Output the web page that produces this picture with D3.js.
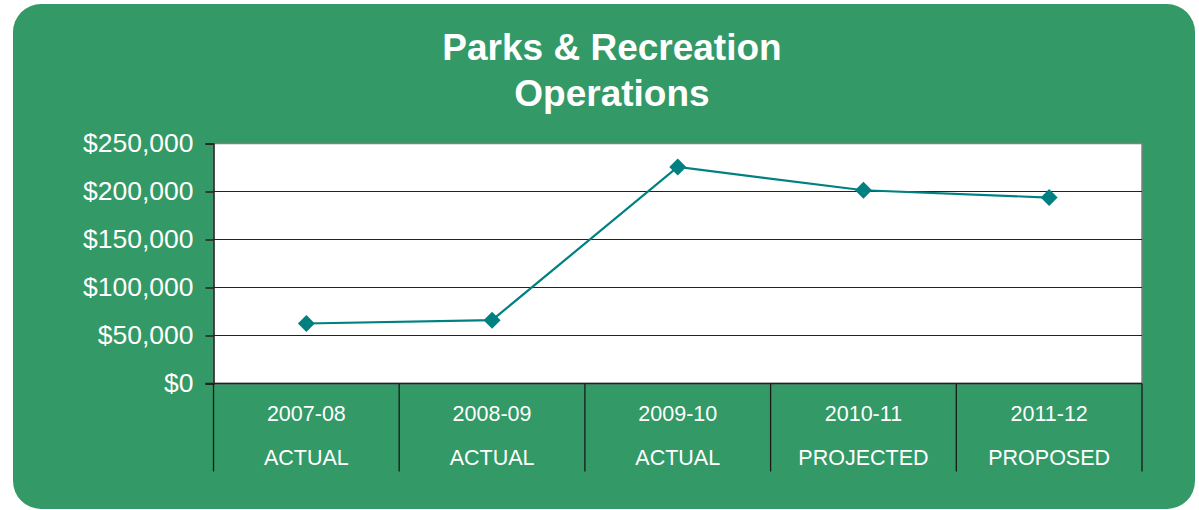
<!DOCTYPE html>
<html>
<head>
<meta charset="utf-8">
<script src="https://cdn.jsdelivr.net/npm/d3@7"></script>
<style>
  body { margin: 0; background: #fff; }
  text { font-family: 'Liberation Sans', Arial, sans-serif; fill: #fff; }
</style>
</head>
<body>
<div id="chart"></div>
<script>
const years = ['2007-08', '2008-09', '2009-10', '2010-11', '2011-12']
const status = ['ACTUAL', 'ACTUAL', 'ACTUAL', 'PROJECTED', 'PROPOSED']
const values = [62500, 66000, 225500, 201300, 193700]
const yTicks = [0, 50000, 100000, 150000, 200000, 250000]
const titleLines = ['Parks & Recreation', 'Operations']

const W = 1199
const H = 510
const margin = { top: 143.5, left: 213.5, right: 57, bottom: 126.5 }
const width = W - margin.left - margin.right
const height = H - margin.top - margin.bottom

const svg = d3
  .select('#chart')
  .append('svg')
  .attr('width', W)
  .attr('height', H)

// green card
svg
  .append('rect')
  .attr('x', 13)
  .attr('y', 4)
  .attr('width', 1182)
  .attr('height', 505)
  .attr('rx', 28)
  .attr('fill', '#339966')

svg
  .append('g')
  .selectAll('text')
  .data(titleLines)
  .enter()
  .append('text')
  .attr('x', 612)
  .attr('y', (d, i) => 60 + i * 46)
  .attr('text-anchor', 'middle')
  .attr('font-size', 37)
  .attr('font-weight', 'bold')
  .text(d => d)

const g = svg
  .append('g')
  .attr('transform', 'translate(' + margin.left + ',' + margin.top + ')')

const x = d3.scaleBand().domain(years).range([0, width])
const y = d3.scaleLinear().domain([0, 250000]).range([height, 0])

g.append('rect')
  .attr('width', width)
  .attr('height', height)
  .attr('fill', '#fff')
  .attr('stroke', '#808080')
  .attr('stroke-width', 1.5)

// gridlines
g.append('g')
  .selectAll('line')
  .data(yTicks.slice(1, -1))
  .enter()
  .append('line')
  .attr('x1', 0)
  .attr('x2', width)
  .attr('y1', d => y(d))
  .attr('y2', d => y(d))
  .attr('stroke', '#222')
  .attr('stroke-width', 1.2)

const yAxis = d3
  .axisLeft(y)
  .tickValues(yTicks)
  .tickSize(8)
  .tickPadding(12)
  .tickFormat(d => '$' + d3.format(',')(d))
g.append('g')
  .attr('class', 'axis y-axis')
  .call(yAxis)
g.selectAll('.y-axis .domain').attr('stroke', '#222').attr('stroke-width', 1.5)
g.selectAll('.y-axis .tick line').attr('stroke', '#222').attr('stroke-width', 1.5)
g.selectAll('.y-axis text')
  .attr('fill', '#fff')
  .attr('font-size', 26.5)
  .attr('font-family', 'Liberation Sans, Arial, sans-serif')

// category axis with separators
const xg = g.append('g').attr('transform', 'translate(0,' + height + ')')
xg.append('line')
  .attr('x1', -8)
  .attr('x2', width)
  .attr('stroke', '#222')
  .attr('stroke-width', 1.5)
xg.selectAll('line.sep')
  .data(years.concat(['end']))
  .enter()
  .append('line')
  .attr('class', 'sep')
  .attr('x1', (d, i) => i * x.bandwidth())
  .attr('x2', (d, i) => i * x.bandwidth())
  .attr('y1', 0)
  .attr('y2', 88)
  .attr('stroke', '#1a1a1a')
  .attr('stroke-width', 1.3)
xg.selectAll('text.yr')
  .data(years)
  .enter()
  .append('text')
  .attr('class', 'yr')
  .attr('x', d => x(d) + x.bandwidth() / 2)
  .attr('y', 37)
  .attr('text-anchor', 'middle')
  .attr('font-size', 21.5)
  .text(d => d)
xg.selectAll('text.st')
  .data(status)
  .enter()
  .append('text')
  .attr('class', 'st')
  .attr('x', (d, i) => x(years[i]) + x.bandwidth() / 2)
  .attr('y', 81)
  .attr('text-anchor', 'middle')
  .attr('font-size', 21.5)
  .text(d => d)

const line = d3
  .line()
  .x((d, i) => x(years[i]) + x.bandwidth() / 2)
  .y(d => y(d))

g.append('path')
  .datum(values)
  .attr('d', line)
  .attr('fill', 'none')
  .attr('stroke', '#008080')
  .attr('stroke-width', 2.2)

g.append('g')
  .selectAll('path')
  .data(values)
  .enter()
  .append('path')
  .attr('d', d3.symbol().type(d3.symbolSquare).size(144))
  .attr('transform', (d, i) =>
    'translate(' + (x(years[i]) + x.bandwidth() / 2) + ',' + y(d) + ') rotate(45)')
  .attr('fill', '#008080')
</script>
</body>
</html>
